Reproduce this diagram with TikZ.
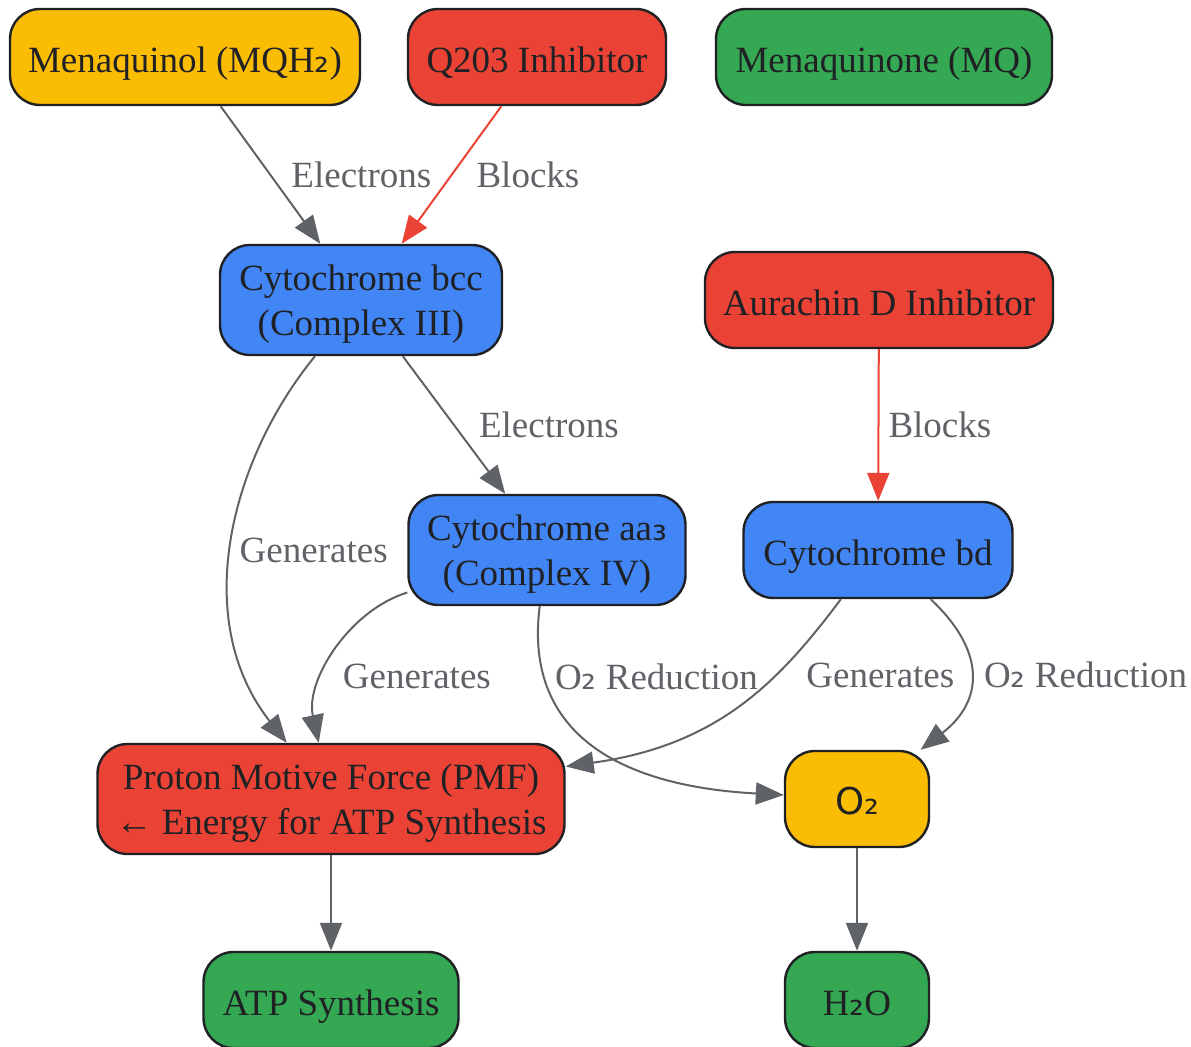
\documentclass[tikz,border=0pt]{standalone}
\usepackage{fontspec}
\setmainfont{Liberation Serif}
\newfontfamily\subfont{DejaVu Sans}
\usetikzlibrary{arrows.meta, calc}
\usepackage{xcolor}
\definecolor{nodeyellow}{HTML}{FBBC04}
\definecolor{nodered}{HTML}{EA4335}
\definecolor{nodegreen}{HTML}{34A853}
\definecolor{nodeblue}{HTML}{4285F4}
\definecolor{nodetext}{HTML}{202124}
\definecolor{edgegray}{HTML}{5F6368}
\newcommand{\subtwo}{{\subfont ₂}}
\newcommand{\subthree}{{\subfont ₃}}

\begin{document}
\begin{tikzpicture}[x=0.5pt, y=-0.5pt,
    box/.style={draw=nodetext, line width=1.2pt, rounded corners=15pt,
      align=center, text=nodetext, minimum height=48pt, inner sep=4pt,
      text height=20pt, text depth=4pt,
      font=\fontsize{18.5}{22.5}\selectfont},
    tallbox/.style={box, minimum height=55pt,
      text height=40pt, text depth=4pt},
    edge/.style={draw=edgegray, line width=1pt,
      -{Triangle[length=14pt, width=11pt]}},
    blockedge/.style={edge, draw=nodered},
    lbl/.style={text=edgegray, inner sep=1pt,
      font=\fontsize{18.5}{22.5}\selectfont}]
    \useasboundingbox (0,0) rectangle (1191,1047);

    % top row
    \node[box, fill=nodeyellow, minimum width=175pt] (mqh) at (185,57)
      {Menaquinol (MQH\subtwo)};
    \node[box, fill=nodered, minimum width=129pt] (qinh) at (537,57)
      {Q203 Inhibitor};
    \node[box, fill=nodegreen, minimum width=168pt] (mq) at (884,57)
      {Menaquinone (MQ)};

    % complexes
    \node[tallbox, fill=nodeblue, minimum width=141pt] (bcc) at (361,300)
      {Cytochrome bcc\\(Complex III)};
    \node[box, fill=nodered, minimum width=174pt] (ainh) at (879,300)
      {Aurachin D Inhibitor};
    \node[tallbox, fill=nodeblue, minimum width=138.5pt] (aa3) at (547,550)
      {Cytochrome aa\subthree\\(Complex IV)};
    \node[box, fill=nodeblue, minimum width=134.5pt] (bd) at (878,550)
      {Cytochrome bd};

    % products
    \node[tallbox, fill=nodered, minimum width=233.5pt] (pmf) at (331,799)
      {Proton Motive Force (PMF)\\← Energy for ATP Synthesis};
    \node[box, fill=nodeyellow, minimum width=72pt] (oxy) at (857,799)
      {\subfont O₂};
    \node[box, fill=nodegreen, minimum width=127.5pt] (atp) at (331,1000)
      {ATP Synthesis};
    \node[box, fill=nodegreen, minimum width=72pt] (water) at (857,1000)
      {H\subtwo O};

    % connectors
    \draw[edge] (mqh) -- node[lbl, midway, right, xshift=9pt] {Electrons} (bcc);
    \draw[blockedge] (qinh) -- node[lbl, midway, right, xshift=11pt] {Blocks} (bcc);
    \draw[edge] (bcc) -- node[lbl, midway, right, xshift=11pt] {Electrons} (aa3);
    \draw[blockedge] (ainh) -- node[lbl, midway, right, xshift=3.5pt] {Blocks} (bd);
    \draw[edge] (bcc) .. controls (230,460) and (190,620) .. (pmf)
      node[lbl, pos=0.5, right, xshift=2pt, yshift=-4pt] {Generates};
    \draw[edge] (aa3) .. controls (350,610) and (305,680) .. (pmf)
      node[lbl, pos=0.65, right, xshift=8pt] {Generates};
    \draw[edge] (aa3) .. controls (525,720) and (600,785) .. (oxy)
      node[lbl, pos=0.23, right, xshift=4pt] {O\subtwo{} Reduction};
    \draw[edge] (bd) .. controls (780,680) and (720,745) .. (pmf)
      node[lbl, pos=0.34, right, xshift=14pt] {Generates};
    \draw[edge] (bd) .. controls (985,650) and (985,700) .. (oxy)
      node[lbl, pos=0.5, right, xshift=5.5pt] {O\subtwo{} Reduction};
    \draw[edge] (pmf) -- (atp);
    \draw[edge] (oxy) -- (water);
  \end{tikzpicture}
\end{document}
